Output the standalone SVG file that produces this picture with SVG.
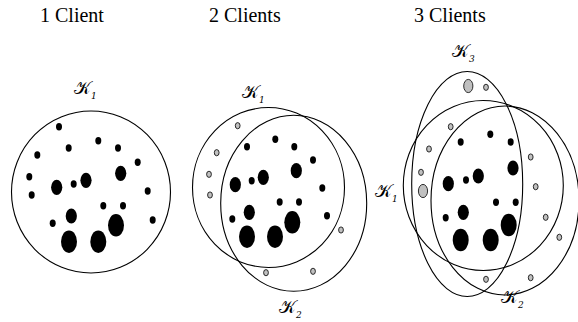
<svg xmlns="http://www.w3.org/2000/svg" xmlns:xlink="http://www.w3.org/1999/xlink" width="578" height="322" viewBox="0 0 578 322">
<style>
.title{font-family:'Liberation Serif','Times New Roman',serif;font-size:20px;fill:#000}
.set{fill:none;stroke:#000;stroke-width:1.1}
.lbl{font-family:'DejaVu Serif','Noto Sans',serif;font-size:18px;fill:#000}
.sub{font-family:'DejaVu Serif',serif;font-style:italic;font-size:9px;fill:#000}
.b{fill:#000}
.g{fill:#c0c0c0;stroke:#000;stroke-width:0.8}
</style>
<defs>
<ellipse id="s" rx="3" ry="3.7" class="b"/>
<ellipse id="m" rx="5.6" ry="7.6" class="b"/>
<ellipse id="l" rx="8" ry="11.2" class="b"/>
<ellipse id="gs" rx="2.4" ry="3.1" class="g"/>
<ellipse id="gl" rx="4.6" ry="6.6" class="g"/>
</defs>
<rect width="578" height="322" fill="#fff"/>
<g id="titles">
<text class="title" x="40" y="22">1 Client</text>
<text class="title" x="209" y="22">2 Clients</text>
<text class="title" x="414" y="22">3 Clients</text>
</g>
<g id="panel1">
<ellipse class="set" cx="91" cy="192" rx="79.5" ry="81"/>
<text class="lbl" x="74" y="94">𝒦</text><text class="sub" x="91" y="99">1</text>
<use xlink:href="#s" x="59" y="126.7"/>
<use xlink:href="#s" x="98.3" y="140.7"/>
<use xlink:href="#s" x="68.7" y="148"/>
<use xlink:href="#s" x="118" y="148"/>
<use xlink:href="#s" x="37.3" y="155"/>
<use xlink:href="#s" x="137.7" y="162.3"/>
<use xlink:href="#s" x="29.3" y="176.7"/>
<use xlink:href="#m" x="120.7" y="173.3"/>
<use xlink:href="#m" x="86" y="180.3"/>
<use xlink:href="#s" x="73.7" y="184"/>
<use xlink:href="#m" x="56.7" y="187.3"/>
<use xlink:href="#s" x="31.7" y="195"/>
<use xlink:href="#s" x="147.7" y="191"/>
<use xlink:href="#s" x="103.3" y="205.7"/>
<use xlink:href="#s" x="123" y="205.7"/>
<use xlink:href="#m" x="71.3" y="216"/>
<use xlink:href="#s" x="52.7" y="223.3"/>
<use xlink:href="#s" x="152.7" y="220"/>
<use xlink:href="#l" x="116" y="225.3"/>
<use xlink:href="#l" x="69" y="241.7"/>
<use xlink:href="#l" x="98.3" y="241.7"/>
</g>
<g id="panel2">
<ellipse class="set" cx="268.5" cy="187.5" rx="76" ry="80"/>
<ellipse class="set" cx="293.7" cy="203.3" rx="73" ry="88"/>
<text class="lbl" x="242" y="98">𝒦</text><text class="sub" x="259" y="103">1</text>
<text class="lbl" x="279" y="313">𝒦</text><text class="sub" x="296" y="318">2</text>
<use xlink:href="#gs" x="237.7" y="125.7"/>
<use xlink:href="#gs" x="216.7" y="152.7"/>
<use xlink:href="#gs" x="209" y="174.3"/>
<use xlink:href="#gs" x="210" y="195"/>
<use xlink:href="#gs" x="341" y="230"/>
<use xlink:href="#gs" x="266" y="272.7"/>
<use xlink:href="#gs" x="313" y="271.3"/>
<use xlink:href="#s" x="247" y="146.7"/>
<use xlink:href="#s" x="275.3" y="139.3"/>
<use xlink:href="#s" x="294.3" y="146.7"/>
<use xlink:href="#s" x="313" y="160"/>
<use xlink:href="#s" x="251.7" y="180.7"/>
<use xlink:href="#s" x="322.3" y="188"/>
<use xlink:href="#s" x="279.7" y="202"/>
<use xlink:href="#s" x="299" y="202"/>
<use xlink:href="#s" x="232.3" y="219"/>
<use xlink:href="#s" x="327" y="215.7"/>
<use xlink:href="#m" x="296.3" y="170.7"/>
<use xlink:href="#m" x="263.3" y="177.3"/>
<use xlink:href="#m" x="235.3" y="184.7"/>
<use xlink:href="#m" x="249.3" y="212.3"/>
<use xlink:href="#l" x="292.3" y="222.3"/>
<use xlink:href="#l" x="247" y="236.7"/>
<use xlink:href="#l" x="275" y="236.7"/>
</g>
<g id="panel3">
<ellipse class="set" cx="467.2" cy="184" rx="55.5" ry="112.5"/>
<ellipse class="set" cx="483.3" cy="185.5" rx="80" ry="85"/>
<ellipse class="set" cx="505" cy="200.5" rx="74" ry="94.5"/>
<text class="lbl" x="452" y="57">𝒦</text><text class="sub" x="469" y="62">3</text>
<text class="lbl" x="375" y="197">𝒦</text><text class="sub" x="392" y="202">1</text>
<text class="lbl" x="501" y="303">𝒦</text><text class="sub" x="518" y="308">2</text>
<use xlink:href="#gl" x="468.3" y="86"/>
<use xlink:href="#gs" x="486" y="87.3"/>
<use xlink:href="#gs" x="450.7" y="126.7"/>
<use xlink:href="#gs" x="429" y="149"/>
<use xlink:href="#gs" x="421" y="172.3"/>
<use xlink:href="#gl" x="423" y="191"/>
<use xlink:href="#gs" x="530.7" y="157"/>
<use xlink:href="#gs" x="535.7" y="186.7"/>
<use xlink:href="#gs" x="545.7" y="217.3"/>
<use xlink:href="#gs" x="559.3" y="237.3"/>
<use xlink:href="#gs" x="486" y="279.3"/>
<use xlink:href="#gs" x="530.7" y="277.7"/>
<use xlink:href="#s" x="460.7" y="142"/>
<use xlink:href="#s" x="490.3" y="134.3"/>
<use xlink:href="#s" x="510.7" y="142"/>
<use xlink:href="#s" x="466" y="180"/>
<use xlink:href="#s" x="496" y="202.3"/>
<use xlink:href="#s" x="515.7" y="202.3"/>
<use xlink:href="#s" x="445.7" y="217.7"/>
<use xlink:href="#m" x="513" y="168"/>
<use xlink:href="#m" x="478.3" y="176"/>
<use xlink:href="#m" x="448.3" y="183.7"/>
<use xlink:href="#m" x="463.3" y="212.3"/>
<use xlink:href="#l" x="508.7" y="225"/>
<use xlink:href="#l" x="460.7" y="240"/>
<use xlink:href="#l" x="490.7" y="240"/>
</g>
</svg>
